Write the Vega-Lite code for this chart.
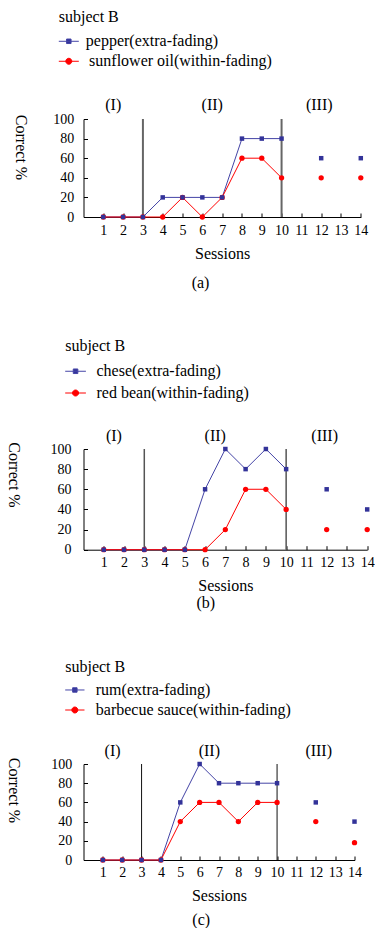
{
  "$schema": "https://vega.github.io/schema/vega-lite/v6.json",
  "background": "white",
  "padding": {"left": 5.5, "top": 8, "right": 0, "bottom": 0},
  "columns": 1,
  "align": "none",
  "spacing": 47,
  "resolve": {"scale": {"color": "independent", "x": "independent", "y": "independent"}},
  "config": {
    "view": {"stroke": null},
    "font": "Liberation Serif",
    "text": {"font": "Liberation Serif"},
    "title": {"font": "Liberation Serif", "fontSize": 16, "fontWeight": "normal", "color": "black"},
    "axis": {"labelFont": "Liberation Serif", "titleFont": "Liberation Serif", "labelColor": "black", "titleColor": "black", "titleFontWeight": "normal", "domainColor": "black", "tickColor": "black", "grid": false, "labelFontSize": 14, "titleFontSize": 16, "tickSize": -4, "labelOverlap": false, "labelFlush": false}
  },
  "datasets": {
    "a": [
      {"session": 1, "pct": 0, "item": "pepper(extra-fading)"},
      {"session": 2, "pct": 0, "item": "pepper(extra-fading)"},
      {"session": 3, "pct": 0, "item": "pepper(extra-fading)"},
      {"session": 4, "pct": 20, "item": "pepper(extra-fading)"},
      {"session": 5, "pct": 20, "item": "pepper(extra-fading)"},
      {"session": 6, "pct": 20, "item": "pepper(extra-fading)"},
      {"session": 7, "pct": 20, "item": "pepper(extra-fading)"},
      {"session": 8, "pct": 80, "item": "pepper(extra-fading)"},
      {"session": 9, "pct": 80, "item": "pepper(extra-fading)"},
      {"session": 10, "pct": 80, "item": "pepper(extra-fading)"},
      {"session": 12, "pct": 60, "item": "pepper(extra-fading)"},
      {"session": 14, "pct": 60, "item": "pepper(extra-fading)"},
      {"session": 1, "pct": 0, "item": "sunflower oil(within-fading)"},
      {"session": 2, "pct": 0, "item": "sunflower oil(within-fading)"},
      {"session": 3, "pct": 0, "item": "sunflower oil(within-fading)"},
      {"session": 4, "pct": 0, "item": "sunflower oil(within-fading)"},
      {"session": 5, "pct": 20, "item": "sunflower oil(within-fading)"},
      {"session": 6, "pct": 0, "item": "sunflower oil(within-fading)"},
      {"session": 7, "pct": 20, "item": "sunflower oil(within-fading)"},
      {"session": 8, "pct": 60, "item": "sunflower oil(within-fading)"},
      {"session": 9, "pct": 60, "item": "sunflower oil(within-fading)"},
      {"session": 10, "pct": 40, "item": "sunflower oil(within-fading)"},
      {"session": 12, "pct": 40, "item": "sunflower oil(within-fading)"},
      {"session": 14, "pct": 40, "item": "sunflower oil(within-fading)"}
    ],
    "b": [
      {"session": 1, "pct": 0, "item": "chese(extra-fading)"},
      {"session": 2, "pct": 0, "item": "chese(extra-fading)"},
      {"session": 3, "pct": 0, "item": "chese(extra-fading)"},
      {"session": 4, "pct": 0, "item": "chese(extra-fading)"},
      {"session": 5, "pct": 0, "item": "chese(extra-fading)"},
      {"session": 6, "pct": 60, "item": "chese(extra-fading)"},
      {"session": 7, "pct": 100, "item": "chese(extra-fading)"},
      {"session": 8, "pct": 80, "item": "chese(extra-fading)"},
      {"session": 9, "pct": 100, "item": "chese(extra-fading)"},
      {"session": 10, "pct": 80, "item": "chese(extra-fading)"},
      {"session": 12, "pct": 60, "item": "chese(extra-fading)"},
      {"session": 14, "pct": 40, "item": "chese(extra-fading)"},
      {"session": 1, "pct": 0, "item": "red bean(within-fading)"},
      {"session": 2, "pct": 0, "item": "red bean(within-fading)"},
      {"session": 3, "pct": 0, "item": "red bean(within-fading)"},
      {"session": 4, "pct": 0, "item": "red bean(within-fading)"},
      {"session": 5, "pct": 0, "item": "red bean(within-fading)"},
      {"session": 6, "pct": 0, "item": "red bean(within-fading)"},
      {"session": 7, "pct": 20, "item": "red bean(within-fading)"},
      {"session": 8, "pct": 60, "item": "red bean(within-fading)"},
      {"session": 9, "pct": 60, "item": "red bean(within-fading)"},
      {"session": 10, "pct": 40, "item": "red bean(within-fading)"},
      {"session": 12, "pct": 20, "item": "red bean(within-fading)"},
      {"session": 14, "pct": 20, "item": "red bean(within-fading)"}
    ],
    "c": [
      {"session": 1, "pct": 0, "item": "rum(extra-fading)"},
      {"session": 2, "pct": 0, "item": "rum(extra-fading)"},
      {"session": 3, "pct": 0, "item": "rum(extra-fading)"},
      {"session": 4, "pct": 0, "item": "rum(extra-fading)"},
      {"session": 5, "pct": 60, "item": "rum(extra-fading)"},
      {"session": 6, "pct": 100, "item": "rum(extra-fading)"},
      {"session": 7, "pct": 80, "item": "rum(extra-fading)"},
      {"session": 8, "pct": 80, "item": "rum(extra-fading)"},
      {"session": 9, "pct": 80, "item": "rum(extra-fading)"},
      {"session": 10, "pct": 80, "item": "rum(extra-fading)"},
      {"session": 12, "pct": 60, "item": "rum(extra-fading)"},
      {"session": 14, "pct": 40, "item": "rum(extra-fading)"},
      {"session": 1, "pct": 0, "item": "barbecue sauce(within-fading)"},
      {"session": 2, "pct": 0, "item": "barbecue sauce(within-fading)"},
      {"session": 3, "pct": 0, "item": "barbecue sauce(within-fading)"},
      {"session": 4, "pct": 0, "item": "barbecue sauce(within-fading)"},
      {"session": 5, "pct": 40, "item": "barbecue sauce(within-fading)"},
      {"session": 6, "pct": 60, "item": "barbecue sauce(within-fading)"},
      {"session": 7, "pct": 60, "item": "barbecue sauce(within-fading)"},
      {"session": 8, "pct": 40, "item": "barbecue sauce(within-fading)"},
      {"session": 9, "pct": 60, "item": "barbecue sauce(within-fading)"},
      {"session": 10, "pct": 60, "item": "barbecue sauce(within-fading)"},
      {"session": 12, "pct": 40, "item": "barbecue sauce(within-fading)"},
      {"session": 14, "pct": 18, "item": "barbecue sauce(within-fading)"}
    ],
    "phaseAB": [
      {"session": 1.5, "label": "(I)"},
      {"session": 6.5, "label": "(II)"},
      {"session": 11.9, "label": "(III)"}
    ],
    "phaseC": [
      {"session": 1.5, "label": "(I)"},
      {"session": 6.5, "label": "(II)"},
      {"session": 12.15, "label": "(III)"}
    ],
    "bounds": [
      {"session": 3},
      {"session": 10}
    ]
  },
  "concat": [
    {
      "width": 277.3,
      "height": 98,
      "title": {"text": "(a)", "orient": "bottom", "dx": -21.6, "offset": 13.5},
      "layer": [
        {
          "encoding": {
            "x": {"field": "session", "type": "quantitative", "scale": {"domain": [0, 14], "nice": false, "zero": false}, "axis": {"values": [1,2,3,4,5,6,7,8,9,10,11,12,13,14], "format": "d", "labelPadding": 10, "titlePadding": 8, "title": "Sessions", "labelAngle": 0, "labelOverlap": false, "labelFlush": false}},
            "y": {"field": "pct", "type": "quantitative", "scale": {"domain": [0, 100], "nice": false, "zero": false}, "axis": {"values": [0,20,40,60,80,100], "format": "d", "labelPadding": 13.7, "labelOverlap": false, "labelFlush": false, "title": "Correct %", "titleAngle": 90, "titleX": -62.7, "titleY": 28, "titleAlign": "center", "titleBaseline": "middle"}}
          },
          "layer": [
            {"data": {"name": "bounds"}, "mark": {"type": "rule", "color": "#666666", "strokeWidth": 2}, "encoding": {"y": null}},
            {"data": {"name": "a"}, "transform": [{"filter": "datum.session <= 10"}], "mark": {"type": "line", "strokeWidth": 1},
             "encoding": {"color": {"field": "item", "type": "nominal", "scale": {"domain": ["pepper(extra-fading)", "sunflower oil(within-fading)"], "range": ["#4444a6", "#ff0000"]}, "legend": null}}},
            {"data": {"name": "a"}, "transform": [{"filter": "datum.item == 'sunflower oil(within-fading)'"}], "mark": {"type": "point", "filled": true, "shape": "circle", "size": 28, "color": "#ff0000", "opacity": 1}},
            {"data": {"name": "a"}, "transform": [{"filter": "datum.item == 'pepper(extra-fading)'"}], "mark": {"type": "point", "filled": true, "shape": "square", "size": 20, "color": "#333399", "opacity": 1}}
          ]
        },
        {"data": {"name": "phaseAB"}, "mark": {"type": "text", "fontSize": 16, "baseline": "middle", "align": "center", "color": "black"},
         "encoding": {
           "x": {"field": "session", "type": "quantitative", "scale": {"domain": [0, 14], "nice": false, "zero": false}, "axis": {"values": [1,2,3,4,5,6,7,8,9,10,11,12,13,14], "format": "d", "labelPadding": 10, "titlePadding": 8, "title": "Sessions", "labelAngle": 0, "labelOverlap": false, "labelFlush": false}},
           "y": {"datum": 114, "type": "quantitative", "scale": {"domain": [0, 100], "nice": false, "zero": false}, "axis": {"values": [0,20,40,60,80,100], "format": "d", "labelPadding": 13.7, "labelOverlap": false, "labelFlush": false, "title": "Correct %", "titleAngle": 90, "titleX": -62.7, "titleY": 28, "titleAlign": "center", "titleBaseline": "middle"}},
           "text": {"field": "label", "type": "nominal"}}},
        {"data": {"name": "a"}, "transform": [{"filter": "datum.session == 1 && datum.item == 'pepper(extra-fading)'"}],
         "mark": {"type": "text", "fontSize": 16, "baseline": "alphabetic", "align": "left", "color": "black"},
         "encoding": {
           "x": {"datum": -1.247, "type": "quantitative", "scale": {"domain": [0, 14], "nice": false, "zero": false}, "axis": {"values": [1,2,3,4,5,6,7,8,9,10,11,12,13,14], "format": "d", "labelPadding": 10, "titlePadding": 8, "title": "Sessions", "labelAngle": 0, "labelOverlap": false, "labelFlush": false}},
           "y": {"datum": 199.3, "type": "quantitative", "scale": {"domain": [0, 100], "nice": false, "zero": false}, "axis": {"values": [0,20,40,60,80,100], "format": "d", "labelPadding": 13.7, "labelOverlap": false, "labelFlush": false, "title": "Correct %", "titleAngle": 90, "titleX": -62.7, "titleY": 28, "titleAlign": "center", "titleBaseline": "middle"}},
           "text": {"value": "subject B"}}},
        {"data": {"name": "a"}, "transform": [{"filter": "datum.session == 1 && datum.item == 'pepper(extra-fading)'"}],
         "mark": {"type": "point", "filled": true, "opacity": 1, "shape": "M-1,0H1M-0.225,-0.225H0.225V0.225H-0.225Z", "size": 400, "fill": "#333399", "stroke": "#4444a6", "strokeWidth": 1},
         "encoding": {
           "x": {"datum": -0.742, "type": "quantitative", "scale": {"domain": [0, 14], "nice": false, "zero": false}, "axis": {"values": [1,2,3,4,5,6,7,8,9,10,11,12,13,14], "format": "d", "labelPadding": 10, "titlePadding": 8, "title": "Sessions", "labelAngle": 0, "labelOverlap": false, "labelFlush": false}},
           "y": {"datum": 179.3, "type": "quantitative", "scale": {"domain": [0, 100], "nice": false, "zero": false}, "axis": {"values": [0,20,40,60,80,100], "format": "d", "labelPadding": 13.7, "labelOverlap": false, "labelFlush": false, "title": "Correct %", "titleAngle": 90, "titleX": -62.7, "titleY": 28, "titleAlign": "center", "titleBaseline": "middle"}}}},
        {"data": {"name": "a"}, "transform": [{"filter": "datum.session == 1 && datum.item == 'pepper(extra-fading)'"}],
         "mark": {"type": "text", "fontSize": 16, "baseline": "middle", "align": "left", "color": "black"},
         "encoding": {
           "x": {"datum": 0.116, "type": "quantitative", "scale": {"domain": [0, 14], "nice": false, "zero": false}, "axis": {"values": [1,2,3,4,5,6,7,8,9,10,11,12,13,14], "format": "d", "labelPadding": 10, "titlePadding": 8, "title": "Sessions", "labelAngle": 0, "labelOverlap": false, "labelFlush": false}},
           "y": {"datum": 179.3, "type": "quantitative", "scale": {"domain": [0, 100], "nice": false, "zero": false}, "axis": {"values": [0,20,40,60,80,100], "format": "d", "labelPadding": 13.7, "labelOverlap": false, "labelFlush": false, "title": "Correct %", "titleAngle": 90, "titleX": -62.7, "titleY": 28, "titleAlign": "center", "titleBaseline": "middle"}},
           "text": {"field": "item", "type": "nominal"}}},
        {"data": {"name": "a"}, "transform": [{"filter": "datum.session == 1 && datum.item == 'sunflower oil(within-fading)'"}],
         "mark": {"type": "point", "filled": true, "opacity": 1, "shape": "M-1,0H1M-0.3,0A0.3,0.3,0,1,1,0.3,0A0.3,0.3,0,1,1,-0.3,0Z", "size": 400, "fill": "#ff0000", "stroke": "#ff0000", "strokeWidth": 1},
         "encoding": {
           "x": {"datum": -0.742, "type": "quantitative", "scale": {"domain": [0, 14], "nice": false, "zero": false}, "axis": {"values": [1,2,3,4,5,6,7,8,9,10,11,12,13,14], "format": "d", "labelPadding": 10, "titlePadding": 8, "title": "Sessions", "labelAngle": 0, "labelOverlap": false, "labelFlush": false}},
           "y": {"datum": 158.9, "type": "quantitative", "scale": {"domain": [0, 100], "nice": false, "zero": false}, "axis": {"values": [0,20,40,60,80,100], "format": "d", "labelPadding": 13.7, "labelOverlap": false, "labelFlush": false, "title": "Correct %", "titleAngle": 90, "titleX": -62.7, "titleY": 28, "titleAlign": "center", "titleBaseline": "middle"}}}},
        {"data": {"name": "a"}, "transform": [{"filter": "datum.session == 1 && datum.item == 'sunflower oil(within-fading)'"}],
         "mark": {"type": "text", "fontSize": 16, "baseline": "middle", "align": "left", "color": "black"},
         "encoding": {
           "x": {"datum": 0.283, "type": "quantitative", "scale": {"domain": [0, 14], "nice": false, "zero": false}, "axis": {"values": [1,2,3,4,5,6,7,8,9,10,11,12,13,14], "format": "d", "labelPadding": 10, "titlePadding": 8, "title": "Sessions", "labelAngle": 0, "labelOverlap": false, "labelFlush": false}},
           "y": {"datum": 158.9, "type": "quantitative", "scale": {"domain": [0, 100], "nice": false, "zero": false}, "axis": {"values": [0,20,40,60,80,100], "format": "d", "labelPadding": 13.7, "labelOverlap": false, "labelFlush": false, "title": "Correct %", "titleAngle": 90, "titleX": -62.7, "titleY": 28, "titleAlign": "center", "titleBaseline": "middle"}},
           "text": {"field": "item", "type": "nominal"}}}
      ]
    },
    {
      "width": 283.7,
      "height": 100.7,
      "title": {"text": "(b)", "orient": "bottom", "dx": -19.5, "offset": 1.2},
      "layer": [
        {
          "encoding": {
            "x": {"field": "session", "type": "quantitative", "scale": {"domain": [0, 14], "nice": false, "zero": false}, "axis": {"values": [1,2,3,4,5,6,7,8,9,10,11,12,13,14], "format": "d", "labelPadding": 10, "titlePadding": 8, "title": "Sessions", "labelAngle": 0, "labelOverlap": false, "labelFlush": false}},
            "y": {"field": "pct", "type": "quantitative", "scale": {"domain": [0, 100], "nice": false, "zero": false}, "axis": {"values": [0,20,40,60,80,100], "format": "d", "labelPadding": 16.6, "labelOverlap": false, "labelFlush": false, "title": "Correct %", "titleAngle": 90, "titleX": -70, "titleY": 25.5, "titleAlign": "center", "titleBaseline": "middle"}}
          },
          "layer": [
            {"data": {"name": "bounds"}, "mark": {"type": "rule", "color": "#555555", "strokeWidth": 1.5}, "encoding": {"y": null}},
            {"data": {"name": "b"}, "transform": [{"filter": "datum.session <= 10"}], "mark": {"type": "line", "strokeWidth": 1},
             "encoding": {"color": {"field": "item", "type": "nominal", "scale": {"domain": ["chese(extra-fading)", "red bean(within-fading)"], "range": ["#4444a6", "#ff0000"]}, "legend": null}}},
            {"data": {"name": "b"}, "transform": [{"filter": "datum.item == 'red bean(within-fading)'"}], "mark": {"type": "point", "filled": true, "shape": "circle", "size": 28, "color": "#ff0000", "opacity": 1}},
            {"data": {"name": "b"}, "transform": [{"filter": "datum.item == 'chese(extra-fading)'"}], "mark": {"type": "point", "filled": true, "shape": "square", "size": 20, "color": "#333399", "opacity": 1}}
          ]
        },
        {"data": {"name": "phaseAB"}, "mark": {"type": "text", "fontSize": 16, "baseline": "middle", "align": "center", "color": "black"},
         "encoding": {
           "x": {"field": "session", "type": "quantitative", "scale": {"domain": [0, 14], "nice": false, "zero": false}, "axis": {"values": [1,2,3,4,5,6,7,8,9,10,11,12,13,14], "format": "d", "labelPadding": 10, "titlePadding": 8, "title": "Sessions", "labelAngle": 0, "labelOverlap": false, "labelFlush": false}},
           "y": {"datum": 113.4, "type": "quantitative", "scale": {"domain": [0, 100], "nice": false, "zero": false}, "axis": {"values": [0,20,40,60,80,100], "format": "d", "labelPadding": 16.6, "labelOverlap": false, "labelFlush": false, "title": "Correct %", "titleAngle": 90, "titleX": -70, "titleY": 25.5, "titleAlign": "center", "titleBaseline": "middle"}},
           "text": {"field": "label", "type": "nominal"}}},
        {"data": {"name": "b"}, "transform": [{"filter": "datum.session == 1 && datum.item == 'chese(extra-fading)'"}],
         "mark": {"type": "text", "fontSize": 16, "baseline": "alphabetic", "align": "left", "color": "black"},
         "encoding": {
           "x": {"datum": -0.903, "type": "quantitative", "scale": {"domain": [0, 14], "nice": false, "zero": false}, "axis": {"values": [1,2,3,4,5,6,7,8,9,10,11,12,13,14], "format": "d", "labelPadding": 10, "titlePadding": 8, "title": "Sessions", "labelAngle": 0, "labelOverlap": false, "labelFlush": false}},
           "y": {"datum": 197.0, "type": "quantitative", "scale": {"domain": [0, 100], "nice": false, "zero": false}, "axis": {"values": [0,20,40,60,80,100], "format": "d", "labelPadding": 16.6, "labelOverlap": false, "labelFlush": false, "title": "Correct %", "titleAngle": 90, "titleX": -70, "titleY": 25.5, "titleAlign": "center", "titleBaseline": "middle"}},
           "text": {"value": "subject B"}}},
        {"data": {"name": "b"}, "transform": [{"filter": "datum.session == 1 && datum.item == 'chese(extra-fading)'"}],
         "mark": {"type": "point", "filled": true, "opacity": 1, "shape": "M-1,0H1M-0.22,-0.22H0.22V0.22H-0.22Z", "size": 428, "fill": "#333399", "stroke": "#4444a6", "strokeWidth": 1},
         "encoding": {
           "x": {"datum": -0.392, "type": "quantitative", "scale": {"domain": [0, 14], "nice": false, "zero": false}, "axis": {"values": [1,2,3,4,5,6,7,8,9,10,11,12,13,14], "format": "d", "labelPadding": 10, "titlePadding": 8, "title": "Sessions", "labelAngle": 0, "labelOverlap": false, "labelFlush": false}},
           "y": {"datum": 177.2, "type": "quantitative", "scale": {"domain": [0, 100], "nice": false, "zero": false}, "axis": {"values": [0,20,40,60,80,100], "format": "d", "labelPadding": 16.6, "labelOverlap": false, "labelFlush": false, "title": "Correct %", "titleAngle": 90, "titleX": -70, "titleY": 25.5, "titleAlign": "center", "titleBaseline": "middle"}}}},
        {"data": {"name": "b"}, "transform": [{"filter": "datum.session == 1 && datum.item == 'chese(extra-fading)'"}],
         "mark": {"type": "text", "fontSize": 16, "baseline": "middle", "align": "left", "color": "black"},
         "encoding": {
           "x": {"datum": 0.642, "type": "quantitative", "scale": {"domain": [0, 14], "nice": false, "zero": false}, "axis": {"values": [1,2,3,4,5,6,7,8,9,10,11,12,13,14], "format": "d", "labelPadding": 10, "titlePadding": 8, "title": "Sessions", "labelAngle": 0, "labelOverlap": false, "labelFlush": false}},
           "y": {"datum": 177.2, "type": "quantitative", "scale": {"domain": [0, 100], "nice": false, "zero": false}, "axis": {"values": [0,20,40,60,80,100], "format": "d", "labelPadding": 16.6, "labelOverlap": false, "labelFlush": false, "title": "Correct %", "titleAngle": 90, "titleX": -70, "titleY": 25.5, "titleAlign": "center", "titleBaseline": "middle"}},
           "text": {"field": "item", "type": "nominal"}}},
        {"data": {"name": "b"}, "transform": [{"filter": "datum.session == 1 && datum.item == 'red bean(within-fading)'"}],
         "mark": {"type": "point", "filled": true, "opacity": 1, "shape": "M-1,0H1M-0.29,0A0.29,0.29,0,1,1,0.29,0A0.29,0.29,0,1,1,-0.29,0Z", "size": 428, "fill": "#ff0000", "stroke": "#ff0000", "strokeWidth": 1},
         "encoding": {
           "x": {"datum": -0.392, "type": "quantitative", "scale": {"domain": [0, 14], "nice": false, "zero": false}, "axis": {"values": [1,2,3,4,5,6,7,8,9,10,11,12,13,14], "format": "d", "labelPadding": 10, "titlePadding": 8, "title": "Sessions", "labelAngle": 0, "labelOverlap": false, "labelFlush": false}},
           "y": {"datum": 155.6, "type": "quantitative", "scale": {"domain": [0, 100], "nice": false, "zero": false}, "axis": {"values": [0,20,40,60,80,100], "format": "d", "labelPadding": 16.6, "labelOverlap": false, "labelFlush": false, "title": "Correct %", "titleAngle": 90, "titleX": -70, "titleY": 25.5, "titleAlign": "center", "titleBaseline": "middle"}}}},
        {"data": {"name": "b"}, "transform": [{"filter": "datum.session == 1 && datum.item == 'red bean(within-fading)'"}],
         "mark": {"type": "text", "fontSize": 16, "baseline": "middle", "align": "left", "color": "black"},
         "encoding": {
           "x": {"datum": 0.642, "type": "quantitative", "scale": {"domain": [0, 14], "nice": false, "zero": false}, "axis": {"values": [1,2,3,4,5,6,7,8,9,10,11,12,13,14], "format": "d", "labelPadding": 10, "titlePadding": 8, "title": "Sessions", "labelAngle": 0, "labelOverlap": false, "labelFlush": false}},
           "y": {"datum": 155.6, "type": "quantitative", "scale": {"domain": [0, 100], "nice": false, "zero": false}, "axis": {"values": [0,20,40,60,80,100], "format": "d", "labelPadding": 16.6, "labelOverlap": false, "labelFlush": false, "title": "Correct %", "titleAngle": 90, "titleX": -70, "titleY": 25.5, "titleAlign": "center", "titleBaseline": "middle"}},
           "text": {"field": "item", "type": "nominal"}}}
      ]
    },
    {
      "width": 271,
      "height": 96,
      "title": {"text": "(c)", "orient": "bottom", "dx": -17.8, "offset": 9},
      "layer": [
        {
          "encoding": {
            "x": {"field": "session", "type": "quantitative", "scale": {"domain": [0, 14], "nice": false, "zero": false}, "axis": {"values": [1,2,3,4,5,6,7,8,9,10,11,12,13,14], "format": "d", "labelPadding": 9.5, "titlePadding": 7.5, "title": "Sessions", "labelAngle": 0, "labelOverlap": false, "labelFlush": false}},
            "y": {"field": "pct", "type": "quantitative", "scale": {"domain": [0, 100], "nice": false, "zero": false}, "axis": {"values": [0,20,40,60,80,100], "format": "d", "labelPadding": 15.7, "labelOverlap": false, "labelFlush": false, "title": "Correct %", "titleAngle": 90, "titleX": -70, "titleY": 26, "titleAlign": "center", "titleBaseline": "middle"}}
          },
          "layer": [
            {"data": {"name": "bounds"}, "mark": {"type": "rule", "color": "#111111", "strokeWidth": 1}, "encoding": {"y": null}},
            {"data": {"name": "c"}, "transform": [{"filter": "datum.session <= 10"}], "mark": {"type": "line", "strokeWidth": 1},
             "encoding": {"color": {"field": "item", "type": "nominal", "scale": {"domain": ["rum(extra-fading)", "barbecue sauce(within-fading)"], "range": ["#4444a6", "#ff0000"]}, "legend": null}}},
            {"data": {"name": "c"}, "transform": [{"filter": "datum.item == 'barbecue sauce(within-fading)'"}], "mark": {"type": "point", "filled": true, "shape": "circle", "size": 28, "color": "#ff0000", "opacity": 1}},
            {"data": {"name": "c"}, "transform": [{"filter": "datum.item == 'rum(extra-fading)'"}], "mark": {"type": "point", "filled": true, "shape": "square", "size": 20, "color": "#333399", "opacity": 1}}
          ]
        },
        {"data": {"name": "phaseC"}, "mark": {"type": "text", "fontSize": 16, "baseline": "middle", "align": "center", "color": "black"},
         "encoding": {
           "x": {"field": "session", "type": "quantitative", "scale": {"domain": [0, 14], "nice": false, "zero": false}, "axis": {"values": [1,2,3,4,5,6,7,8,9,10,11,12,13,14], "format": "d", "labelPadding": 9.5, "titlePadding": 7.5, "title": "Sessions", "labelAngle": 0, "labelOverlap": false, "labelFlush": false}},
           "y": {"datum": 113.75, "type": "quantitative", "scale": {"domain": [0, 100], "nice": false, "zero": false}, "axis": {"values": [0,20,40,60,80,100], "format": "d", "labelPadding": 15.7, "labelOverlap": false, "labelFlush": false, "title": "Correct %", "titleAngle": 90, "titleX": -70, "titleY": 26, "titleAlign": "center", "titleBaseline": "middle"}},
           "text": {"field": "label", "type": "nominal"}}},
        {"data": {"name": "c"}, "transform": [{"filter": "datum.session == 1 && datum.item == 'rum(extra-fading)'"}],
         "mark": {"type": "text", "fontSize": 16, "baseline": "alphabetic", "align": "left", "color": "black"},
         "encoding": {
           "x": {"datum": -0.945, "type": "quantitative", "scale": {"domain": [0, 14], "nice": false, "zero": false}, "axis": {"values": [1,2,3,4,5,6,7,8,9,10,11,12,13,14], "format": "d", "labelPadding": 9.5, "titlePadding": 7.5, "title": "Sessions", "labelAngle": 0, "labelOverlap": false, "labelFlush": false}},
           "y": {"datum": 196.1, "type": "quantitative", "scale": {"domain": [0, 100], "nice": false, "zero": false}, "axis": {"values": [0,20,40,60,80,100], "format": "d", "labelPadding": 15.7, "labelOverlap": false, "labelFlush": false, "title": "Correct %", "titleAngle": 90, "titleX": -70, "titleY": 26, "titleAlign": "center", "titleBaseline": "middle"}},
           "text": {"value": "subject B"}}},
        {"data": {"name": "c"}, "transform": [{"filter": "datum.session == 1 && datum.item == 'rum(extra-fading)'"}],
         "mark": {"type": "point", "filled": true, "opacity": 1, "shape": "M-1,0H1M-0.23,-0.23H0.23V0.23H-0.23Z", "size": 372, "fill": "#333399", "stroke": "#4444a6", "strokeWidth": 1},
         "encoding": {
           "x": {"datum": -0.447, "type": "quantitative", "scale": {"domain": [0, 14], "nice": false, "zero": false}, "axis": {"values": [1,2,3,4,5,6,7,8,9,10,11,12,13,14], "format": "d", "labelPadding": 9.5, "titlePadding": 7.5, "title": "Sessions", "labelAngle": 0, "labelOverlap": false, "labelFlush": false}},
           "y": {"datum": 177.1, "type": "quantitative", "scale": {"domain": [0, 100], "nice": false, "zero": false}, "axis": {"values": [0,20,40,60,80,100], "format": "d", "labelPadding": 15.7, "labelOverlap": false, "labelFlush": false, "title": "Correct %", "titleAngle": 90, "titleX": -70, "titleY": 26, "titleAlign": "center", "titleBaseline": "middle"}}}},
        {"data": {"name": "c"}, "transform": [{"filter": "datum.session == 1 && datum.item == 'rum(extra-fading)'"}],
         "mark": {"type": "text", "fontSize": 16, "baseline": "middle", "align": "left", "color": "black"},
         "encoding": {
           "x": {"datum": 0.635, "type": "quantitative", "scale": {"domain": [0, 14], "nice": false, "zero": false}, "axis": {"values": [1,2,3,4,5,6,7,8,9,10,11,12,13,14], "format": "d", "labelPadding": 9.5, "titlePadding": 7.5, "title": "Sessions", "labelAngle": 0, "labelOverlap": false, "labelFlush": false}},
           "y": {"datum": 177.1, "type": "quantitative", "scale": {"domain": [0, 100], "nice": false, "zero": false}, "axis": {"values": [0,20,40,60,80,100], "format": "d", "labelPadding": 15.7, "labelOverlap": false, "labelFlush": false, "title": "Correct %", "titleAngle": 90, "titleX": -70, "titleY": 26, "titleAlign": "center", "titleBaseline": "middle"}},
           "text": {"field": "item", "type": "nominal"}}},
        {"data": {"name": "c"}, "transform": [{"filter": "datum.session == 1 && datum.item == 'barbecue sauce(within-fading)'"}],
         "mark": {"type": "point", "filled": true, "opacity": 1, "shape": "M-1,0H1M-0.31,0A0.31,0.31,0,1,1,0.31,0A0.31,0.31,0,1,1,-0.31,0Z", "size": 372, "fill": "#ff0000", "stroke": "#ff0000", "strokeWidth": 1},
         "encoding": {
           "x": {"datum": -0.447, "type": "quantitative", "scale": {"domain": [0, 14], "nice": false, "zero": false}, "axis": {"values": [1,2,3,4,5,6,7,8,9,10,11,12,13,14], "format": "d", "labelPadding": 9.5, "titlePadding": 7.5, "title": "Sessions", "labelAngle": 0, "labelOverlap": false, "labelFlush": false}},
           "y": {"datum": 156.25, "type": "quantitative", "scale": {"domain": [0, 100], "nice": false, "zero": false}, "axis": {"values": [0,20,40,60,80,100], "format": "d", "labelPadding": 15.7, "labelOverlap": false, "labelFlush": false, "title": "Correct %", "titleAngle": 90, "titleX": -70, "titleY": 26, "titleAlign": "center", "titleBaseline": "middle"}}}},
        {"data": {"name": "c"}, "transform": [{"filter": "datum.session == 1 && datum.item == 'barbecue sauce(within-fading)'"}],
         "mark": {"type": "text", "fontSize": 16, "baseline": "middle", "align": "left", "color": "black"},
         "encoding": {
           "x": {"datum": 0.635, "type": "quantitative", "scale": {"domain": [0, 14], "nice": false, "zero": false}, "axis": {"values": [1,2,3,4,5,6,7,8,9,10,11,12,13,14], "format": "d", "labelPadding": 9.5, "titlePadding": 7.5, "title": "Sessions", "labelAngle": 0, "labelOverlap": false, "labelFlush": false}},
           "y": {"datum": 156.25, "type": "quantitative", "scale": {"domain": [0, 100], "nice": false, "zero": false}, "axis": {"values": [0,20,40,60,80,100], "format": "d", "labelPadding": 15.7, "labelOverlap": false, "labelFlush": false, "title": "Correct %", "titleAngle": 90, "titleX": -70, "titleY": 26, "titleAlign": "center", "titleBaseline": "middle"}},
           "text": {"field": "item", "type": "nominal"}}}
      ]
    }
  ]
}
